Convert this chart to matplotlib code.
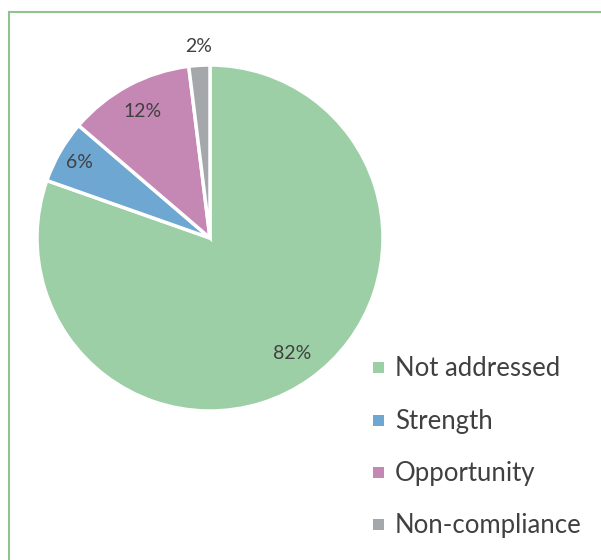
import numpy as np
import matplotlib
matplotlib.use("Agg")
import matplotlib.pyplot as plt
from matplotlib.patches import Rectangle
from matplotlib.lines import Line2D

categories = ["Not addressed", "Strength", "Opportunity", "Non-compliance"]
values = [82, 6, 12, 2]
pct_labels = ["82%", "6%", "12%", "2%"]
colors = ["#9dcfa6", "#6fa7d3", "#c588b5", "#a4a8ab"]

plt.rcParams["font.family"] = ["Lato", "DejaVu Sans"]

W, H = 601, 560
fig = plt.figure(figsize=(W / 100, H / 100), dpi=100)
ax = fig.add_axes([0, 0, 1, 1])

cx, cy, r = 210, H - 238, 173
wedges, _ = ax.pie(values, colors=colors, startangle=90, counterclock=False,
                   center=(cx, cy), radius=r, frame=True,
                   wedgeprops=dict(edgecolor="white", linewidth=2.5))
ax.set_xlim(0, W)
ax.set_ylim(0, H)
ax.set_aspect("equal")
ax.axis("off")

# label distances from the centre, as a fraction of the radius
dists = [0.82, 0.87, 0.83, 1.11]
for w, lab, d in zip(wedges, pct_labels, dists):
    ang = np.deg2rad((w.theta1 + w.theta2) / 2)
    ax.text(cx + d * r * np.cos(ang), cy + d * r * np.sin(ang), lab,
            ha="center", va="center", fontsize=14, color="#404040")

# legend: small squares with labels, stacked on the right
row_y = [367, 420, 472, 524]
for cat, col, yc in zip(categories, colors, row_y):
    ax.add_patch(Rectangle((373, H - yc - 5.5), 11, 11, facecolor=col,
                           edgecolor="none"))
    ax.text(395, H - yc - 9, cat, ha="left", va="baseline", fontsize=18.5,
            color="#404040")

# thin green frame along the top and left edges
fig.add_artist(Line2D([8.5 / W, 1], [1 - 11.5 / H, 1 - 11.5 / H],
                      transform=fig.transFigure, color="#8fc48f", lw=1.5))
fig.add_artist(Line2D([8.5 / W, 8.5 / W], [0, 1 - 11.5 / H],
                      transform=fig.transFigure, color="#8fc48f", lw=1.5))

fig.savefig("out.png", dpi=100)
